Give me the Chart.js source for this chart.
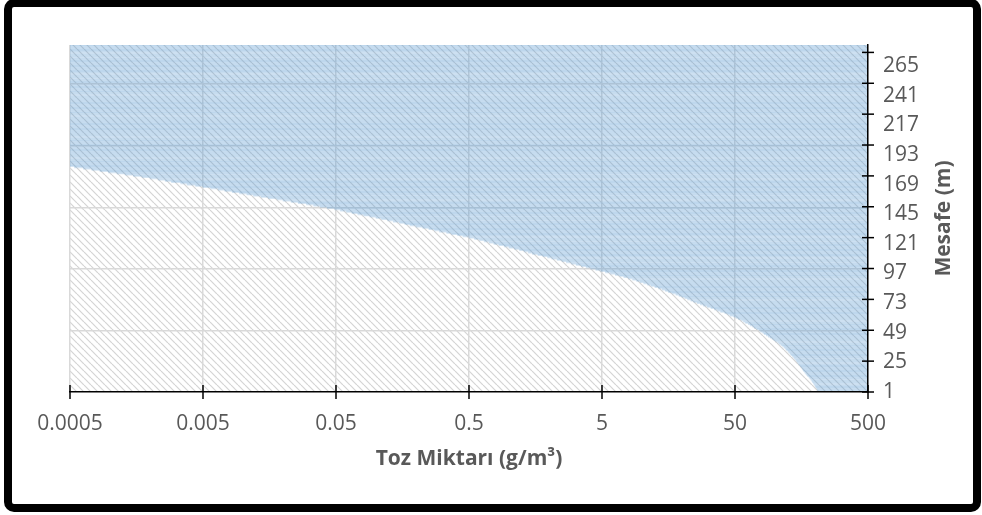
<!DOCTYPE html>
<html>
<head>
<meta charset="utf-8">
<script src="https://cdn.jsdelivr.net/npm/chart.js@4.4.1/dist/chart.umd.min.js"></script>
<style>
  html, body { margin: 0; padding: 0; background: #fff; }
  #wrap { position: relative; width: 982px; height: 515px; overflow: hidden; }
  #frame {
    position: absolute; left: 4px; top: -1px; width: 977px; height: 513px;
    box-sizing: border-box; border: 8px solid #000; border-radius: 10px;
    pointer-events: none;
  }
</style>
</head>
<body>
<div id="wrap">
  <canvas id="myChart" width="982" height="515"></canvas>
  <div id="frame"></div>
</div>
<script>
// distance categories (m), 1 .. 282
var distStart = 1;
var distCount = 282;
var distances = [];
for (var i = 0; i < distCount; i++) distances.push('' + (distStart + i));

// dust amount (g/m3) for each distance
var dust = [
  214, 211, 208, 205, 202, 200, 197, 194, 191, 189, 186,
  183, 180, 176, 173, 170,
  167, 164, 162, 160, 157, 155,
  152, 150, 147, 145, 143, 140, 138,
  135, 132, 130, 127, 125, 122, 120,
  117, 114, 111, 108, 105,
  101, 98, 95, 92, 89,
  86, 83, 81, 78, 76,
  73, 70, 68, 65, 63,
  60, 58, 56, 53, 51,
  49, 46, 44, 42, 39, 37,
  35, 33, 31, 29, 27.5,
  26, 24.5, 23.3, 22, 21,
  20, 19, 18, 16.8, 15.8,
  15, 14.2, 13.3, 12.5, 11.7,
  11, 10.3, 9.7, 9.1, 8.5,
  7.9, 7.3, 6.8, 6.3, 5.8, 5.3, 4.9,
  4.5, 4.1, 3.8, 3.5, 3.2,
  2.95, 2.7, 2.5, 2.3, 2.1, 1.95, 1.8, 1.65,
  1.5, 1.4, 1.3, 1.2, 1.1, 1.0, 0.92, 0.84,
  0.77, 0.71, 0.65, 0.6, 0.55, 0.5,
  0.45, 0.41, 0.37, 0.34, 0.3, 0.275, 0.25, 0.225, 0.2,
  0.18, 0.165, 0.15, 0.135, 0.122, 0.11, 0.1,
  0.09, 0.081, 0.073, 0.066, 0.06, 0.054, 0.049,
  0.043, 0.038, 0.034, 0.03, 0.026, 0.023,
  0.02, 0.018, 0.0155, 0.0137, 0.012, 0.0107,
  0.0094, 0.0083, 0.0073, 0.0065, 0.0057, 0.005,
  0.0044, 0.0038, 0.0034, 0.0029, 0.0026, 0.0023, 0.002,
  0.00174, 0.0015, 0.0013, 0.00113, 0.00097, 0.00084, 0.00073, 0.00063, 0.00054, 0.00047,
  // below the axis minimum from here on
  4.1e-4, 3.5e-4, 3.0e-4, 2.6e-4, 2.2e-4, 1.9e-4, 1.6e-4, 1.4e-4, 1.2e-4, 1.0e-4,
  8.6e-5, 7.4e-5, 6.3e-5, 5.4e-5, 4.6e-5, 4.0e-5, 3.4e-5, 2.9e-5, 2.5e-5, 2.1e-5,
  1.8e-5, 1.6e-5, 1.3e-5, 1.1e-5, 9.7e-6, 8.3e-6, 7.1e-6, 6.1e-6, 5.2e-6, 4.5e-6,
  3.8e-6, 3.3e-6, 2.8e-6, 2.4e-6, 2.1e-6, 1.8e-6, 1.5e-6, 1.3e-6, 1.1e-6, 9.5e-7,
  8.1e-7, 7.0e-7, 6.0e-7, 5.1e-7, 4.4e-7, 3.8e-7, 3.2e-7, 2.8e-7, 2.4e-7, 2.0e-7,
  1.7e-7, 1.5e-7, 1.3e-7, 1.1e-7, 9.4e-8, 8.0e-8, 6.9e-8, 5.9e-8, 5.1e-8, 4.3e-8,
  3.7e-8, 3.2e-8, 2.7e-8, 2.3e-8, 2.0e-8, 1.7e-8, 1.5e-8, 1.3e-8, 1.1e-8, 9.3e-9,
  8.0e-9, 6.8e-9, 5.8e-9, 5.0e-9, 4.3e-9, 3.7e-9, 3.2e-9, 2.7e-9, 2.3e-9, 2.0e-9,
  1.7e-9, 1.5e-9, 1.3e-9, 1.1e-9, 9.2e-10, 7.9e-10, 6.8e-10, 5.8e-10, 5.0e-10, 4.3e-10,
  3.7e-10, 3.1e-10, 2.7e-10, 2.3e-10, 2.0e-10, 1.7e-10, 1.5e-10, 1.3e-10
];

var xTickValues = [0.0005, 0.005, 0.05, 0.5, 5, 50, 500];
var xTickLabels = ['0.0005', '0.005', '0.05', '0.5', '5', '50', '500'];
var yLabelStep = 24;   // a label every 24 distances
var yMarkStep = 25;    // tick marks every 25
var yGridStep = 50;    // gridlines every 50

var xMin = 0.0005;
var xMax = 500;

// diagonal hatch used as plot background
function makeHatch() {
  var c = document.createElement('canvas');
  c.width = 7; c.height = 7;
  var g = c.getContext('2d');
  g.strokeStyle = '#d4d4d4';
  g.lineWidth = 1.2;
  for (var k = -1; k <= 1; k++) {
    g.beginPath();
    g.moveTo(k * 7, 0);
    g.lineTo(k * 7 + 7, 7);
    g.stroke();
  }
  return c;
}

var hatchPlugin = {
  id: 'hatch',
  beforeDraw: function(chart) {
    var a = chart.chartArea;
    var ctx = chart.ctx;
    ctx.save();
    ctx.fillStyle = ctx.createPattern(makeHatch(), 'repeat');
    ctx.fillRect(a.left, a.top, a.right - a.left, a.bottom - a.top);
    ctx.restore();
  }
};

var axisMarks = {
  id: 'axisMarks',
  afterDraw: function(chart) {
    var ctx = chart.ctx;
    var a = chart.chartArea;
    var xs = chart.scales.x, ys = chart.scales.y;
    ctx.save();
    ctx.strokeStyle = '#000';
    ctx.lineWidth = 1.5;
    xs.ticks.forEach(function(t) {
      var px = xs.getPixelForValue(t.value);
      ctx.beginPath();
      ctx.moveTo(px, a.bottom - 7);
      ctx.lineTo(px, a.bottom + 7);
      ctx.stroke();
    });
    ys.ticks.forEach(function(t) {
      if (t.value % yMarkStep !== 0) return;
      var py = ys.getPixelForValue(t.value);
      ctx.beginPath();
      ctx.moveTo(a.right - 6, py);
      ctx.lineTo(a.right + 6, py);
      ctx.stroke();
    });
    // right axis title, reading bottom to top
    ctx.translate(944, (a.top + a.bottom) / 2);
    ctx.rotate(-Math.PI / 2);
    ctx.fillStyle = '#595959';
    ctx.font = 'bold 21px "Open Sans"';
    ctx.textAlign = 'center';
    ctx.textBaseline = 'middle';
    ctx.fillText('Mesafe (m)', 0, 0);
    ctx.restore();
  }
};

var ctx = document.getElementById('myChart').getContext('2d');
var chart = new Chart(ctx, {
  type: 'bar',
  data: {
    labels: distances,
    datasets: [{
      label: 'Toz',
      data: dust.map(function(v) { return [v, xMax]; }),
      backgroundColor: 'rgba(91,155,213,0.25)',
      borderWidth: 0,
      barPercentage: 1,
      categoryPercentage: 1,
      clip: 0
    }]
  },
  options: {
    indexAxis: 'y',
    responsive: false,
    animation: false,
    devicePixelRatio: 1,
    layout: { padding: { left: 70, top: 45, right: 0, bottom: 0 } },
    plugins: {
      legend: { display: false },
      tooltip: { enabled: false }
    },
    scales: {
      x: {
        type: 'logarithmic',
        position: 'bottom',
        min: xMin,
        max: xMax,
        afterBuildTicks: function(scale) {
          scale.ticks = xTickValues.map(function(v) { return { value: v }; });
        },
        afterFit: function(scale) { scale.height = 123; },
        ticks: {
          autoSkip: false,
          maxRotation: 0,
          padding: 19,
          color: '#595959',
          font: { family: 'Open Sans', size: 21 },
          callback: function(v, i) { return xTickLabels[i]; }
        },
        grid: { color: '#d9d9d9', lineWidth: 1.5, drawTicks: false },
        border: { color: '#000', width: 1.5, z: 1 },
        title: {
          display: true,
          text: 'Toz Miktarı (g/m³)',
          color: '#595959',
          font: { family: 'Open Sans', size: 21, weight: 'bold' },
          padding: { top: 0, bottom: 43 }
        }
      },
      y: {
        type: 'category',
        position: 'right',
        reverse: true,
        offset: false,
        afterFit: function(scale) { scale.width = 114; },
        ticks: {
          autoSkip: false,
          padding: 15,
          color: '#595959',
          font: { family: 'Open Sans', size: 21 },
          callback: function(v) {
            return v % yLabelStep === 0 ? this.getLabelForValue(v) : '';
          }
        },
        grid: {
          color: function(c) {
            return c.tick && c.tick.value % yGridStep === 0 ? '#d9d9d9' : 'rgba(0,0,0,0)';
          },
          lineWidth: 1.5,
          drawTicks: false
        },
        border: { color: '#000', width: 1.5, z: 1 }
      }
    }
  },
  plugins: [hatchPlugin, axisMarks]
});
</script>
</body>
</html>
